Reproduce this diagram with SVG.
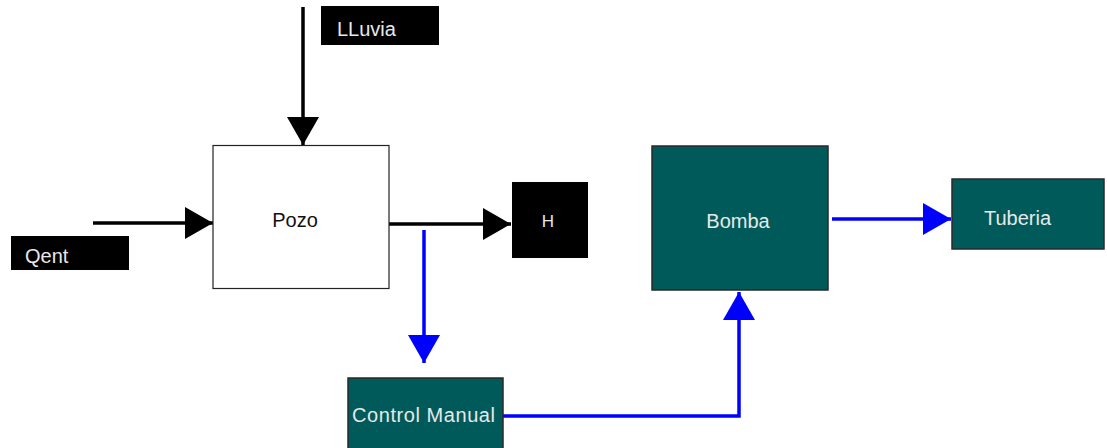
<svg xmlns="http://www.w3.org/2000/svg" width="1107" height="448" viewBox="0 0 1107 448">
<style>
.lbl{font-family:"Liberation Sans",Arial,sans-serif;font-size:20px;fill:#e8e8e8}
.tag{fill:#000}
.teal{fill:#005a5a;stroke:#2a2a2a;stroke-width:1.5}
.blk{stroke:#000;stroke-width:3.5;fill:none}
.blu{stroke:#0000ff;stroke-width:3.5;fill:none}
</style>
<defs>
<marker id="ab" markerUnits="userSpaceOnUse" markerWidth="30" markerHeight="34" refX="28" refY="16" orient="auto" overflow="visible">
<path d="M0,0 L28,16 L0,32 Z" fill="#000"/>
</marker>
<marker id="au" markerUnits="userSpaceOnUse" markerWidth="30" markerHeight="34" refX="28" refY="16" orient="auto" overflow="visible">
<path d="M0,0 L28,16 L0,32 Z" fill="#0000ff"/>
</marker>
</defs>
<rect width="1107" height="448" fill="#fff"/>
<g id="connectors">
<line class="blk" x1="303" y1="7" x2="303" y2="145" marker-end="url(#ab)"/>
<line class="blk" x1="93" y1="223" x2="213" y2="223" marker-end="url(#ab)"/>
<line class="blk" x1="389" y1="224" x2="511" y2="224" marker-end="url(#ab)"/>
<line class="blu" x1="424" y1="230" x2="424" y2="363" marker-end="url(#au)"/>
<polyline class="blu" points="503,416 739,416 739,292" marker-end="url(#au)"/>
<line class="blu" x1="832" y1="219" x2="951" y2="219" marker-end="url(#au)"/>
</g>
<g id="lluvia">
<rect class="tag" x="321" y="6" width="118" height="39"/>
<text class="lbl" x="337" y="36">LLuvia</text>
</g>
<g id="qent">
<rect class="tag" x="11" y="236" width="118" height="34"/>
<text class="lbl" x="25" y="263">Qent</text>
</g>
<g id="pozo">
<rect x="213" y="145.5" width="176" height="143" fill="#fff" stroke="#222" stroke-width="1.2"/>
<text x="295" y="227" text-anchor="middle" style="font-family:'Liberation Sans',Arial,sans-serif;font-size:20px;fill:#111">Pozo</text>
</g>
<g id="h">
<rect class="tag" x="512" y="182" width="76" height="76"/>
<text class="lbl" x="548" y="227" text-anchor="middle" style="font-size:17px">H</text>
</g>
<g id="control">
<rect class="teal" x="348" y="378" width="155" height="75"/>
<text class="lbl" x="352" y="422" textLength="143">Control Manual</text>
</g>
<g id="bomba">
<rect class="teal" x="652" y="146" width="176" height="144"/>
<text class="lbl" x="738" y="228" text-anchor="middle">Bomba</text>
</g>
<g id="tuberia">
<rect class="teal" x="952" y="179" width="152" height="70"/>
<text class="lbl" x="984" y="225">Tuberia</text>
</g>
</svg>
